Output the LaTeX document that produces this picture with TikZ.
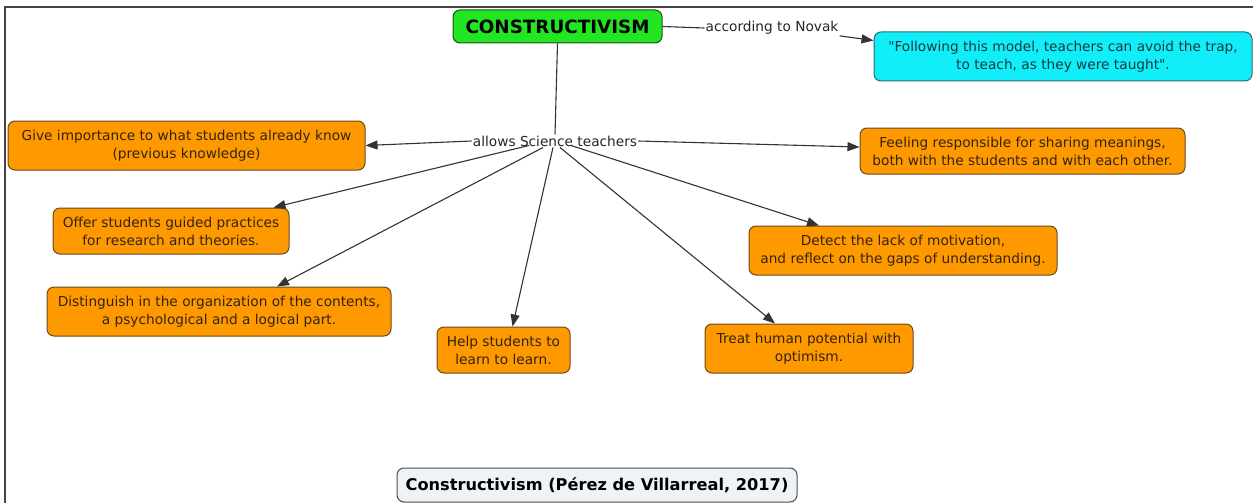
\documentclass[tikz,border=0pt]{standalone}
\usepackage{fontspec}
\newfontfamily\mainf{DejaVu Sans}
\usetikzlibrary{arrows.meta,calc}
\definecolor{orfill}{HTML}{FF9900}
\definecolor{ordraw}{HTML}{6E4A1E}
\definecolor{ortext}{HTML}{33240F}
\definecolor{cyfill}{HTML}{11EEFA}
\definecolor{cydraw}{HTML}{2E6A6E}
\definecolor{cytext}{HTML}{123A3C}
\definecolor{grfill}{HTML}{22E622}
\definecolor{grdraw}{HTML}{1E4E1E}
\definecolor{tifill}{HTML}{EEF3F7}
\definecolor{linecol}{HTML}{333333}
\definecolor{framecol}{HTML}{444444}
\tikzset{
  cbox/.style={draw, rounded corners=7pt, line width=1pt, inner sep=0pt, align=center,
    font=\mainf\fontsize{13.7}{18}\selectfont},
  orbox/.style={cbox, fill=orfill, draw=ordraw, text=ortext},
  cybox/.style={cbox, fill=cyfill, draw=cydraw, text=cytext},
  lbl/.style={inner sep=1pt, text=black!85, font=\mainf\fontsize{13.7}{18}\selectfont},
  conn/.style={draw=linecol, line width=1.1pt},
  arr/.style={conn, -{Triangle[length=12pt,width=9pt]}},
}
\begin{document}
\begin{tikzpicture}[x=1pt,y=-1pt]
\useasboundingbox (0,0) rectangle (1253,503);
\fill[white] (0,0) rectangle (1253,503);
\draw[framecol, line width=2pt] (1253,7) -- (5,7) -- (5,503);

\node[cbox, fill=grfill, draw=grdraw, text=black, minimum width=209pt, minimum height=33pt,
  font=\mainf\fontsize{18.3}{20}\bfseries] (con) at (557.5,26.5) {CONSTRUCTIVISM};
\node[cybox, minimum width=378pt, minimum height=49pt] (cy) at (1063,56.5)
  {"Following this model, teachers can avoid the trap,\\ to teach, as they were taught".};
\node[lbl] (nov) at (772,28) {according to Novak};
\node[lbl] (allows) at (555,141) {allows Science teachers};

\node[orbox, minimum width=357pt, minimum height=49pt] (give) at (186.5,145.5)
  {Give importance to what students already know\\(previous knowledge)};
\node[orbox, minimum width=325pt, minimum height=46pt] (feel) at (1022.5,151)
  {Feeling responsible for sharing meanings,\\both with the students and with each other.};
\node[orbox, minimum width=236pt, minimum height=46pt] (offer) at (171,231)
  {Offer students guided practices\\for research and theories.};
\node[orbox, minimum width=344pt, minimum height=49pt] (dist) at (219,311.5)
  {Distinguish in the organization of the contents,\\a psychological and a logical part.};
\node[orbox, minimum width=133pt, minimum height=46pt] (help) at (503.5,350)
  {Help students to\\learn to learn.};
\node[orbox, minimum width=308pt, minimum height=49pt] (det) at (903,250.5)
  {Detect the lack of motivation,\\and reflect on the gaps of understanding.};
\node[orbox, minimum width=208pt, minimum height=49pt] (treat) at (809,348.5)
  {Treat human potential with\\optimism.};

\node[cbox, fill=tifill, draw=black!70, text=black, minimum width=400pt, minimum height=34pt,
  font=\mainf\fontsize{16.2}{18}\bfseries] (title) at (597,485) {Constructivism (Pérez de Villarreal, 2017)};

% connectors
\draw[conn] (con.east) -- (nov.west);
\draw[arr] (nov.south east) -- ($(cy.west)+(0,-16)$);
\draw[conn] (con.south) -- (allows.north);
\draw[arr] (allows.west) -- (give.east);
\draw[arr] (allows.east) -- ($(feel.west)+(0,-4)$);
\draw[arr] ($(allows.south)+(-26,-2)$) -- ($(offer.north east)+(-16,0)$);
\draw[arr] ($(allows.south)+(-12,0)$) -- ($(dist.north)+(58,0)$);
\draw[arr] ($(allows.south)+(-2,0)$) -- ($(help.north)+(9,0)$);
\draw[arr] ($(allows.south)+(5,0)$) -- ($(treat.north)+(-34,0)$);
\draw[arr] ($(allows.south)+(16,-2)$) -- ($(det.north)+(-84,0)$);
\end{tikzpicture}
\end{document}
